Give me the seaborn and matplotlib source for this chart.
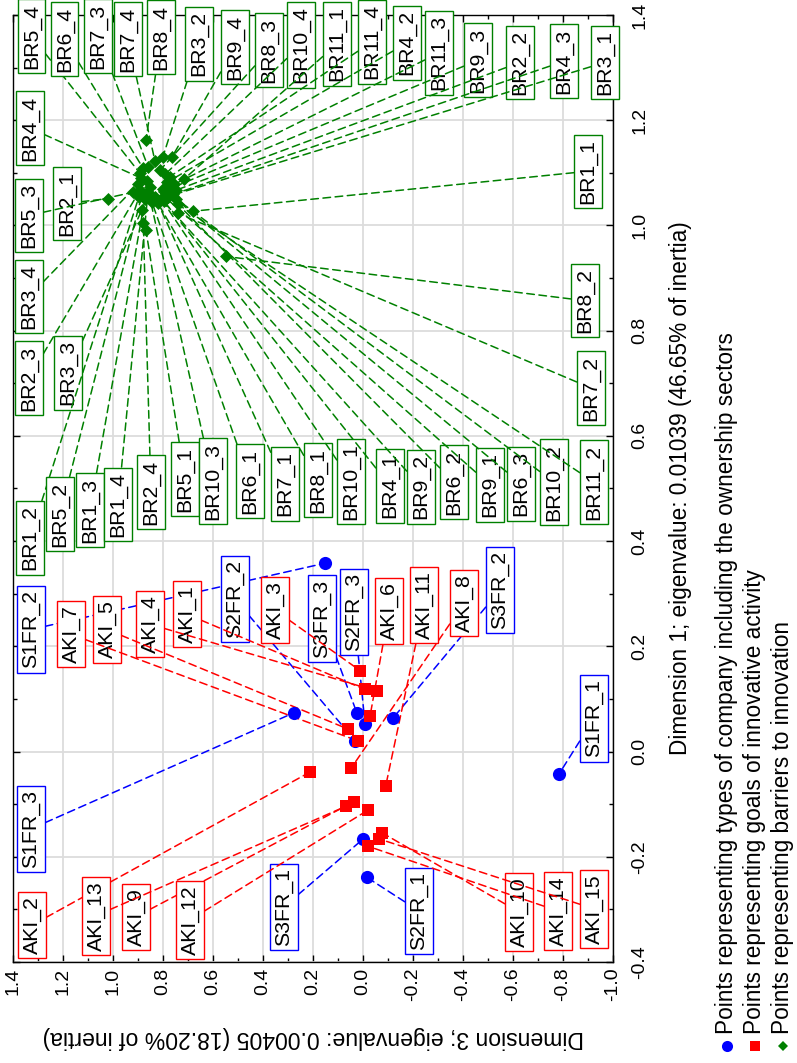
import numpy as np
import pandas as pd
import matplotlib
matplotlib.use("Agg")
import matplotlib.pyplot as plt
import seaborn as sns
from matplotlib.ticker import MultipleLocator, FormatStrFormatter
from matplotlib.lines import Line2D

# ---------------- data ----------------
# Blue: types of company (ownership sectors)
blue_labels = ["S1FR_1", "S1FR_2", "S1FR_3", "S2FR_1", "S2FR_2", "S2FR_3", "S3FR_1", "S3FR_2", "S3FR_3"]
blue_dim3 = [-0.785, 0.152, 0.275, -0.015, 0.032, -0.008, -0.001, -0.119, 0.025]
blue_dim1 = [-0.042, 0.358, 0.074, -0.239, 0.021, 0.053, -0.166, 0.063, 0.074]
blue_lab_dim3 = [-0.924, 1.328, 1.328, -0.224, 0.512, 0.036, 0.316, -0.548, 0.164]
blue_lab_dim1 = [0.063, 0.232, -0.147, -0.303, 0.290, 0.265, -0.295, 0.307, 0.253]

# Red: goals of innovative activity
red_labels = ["AKI_1", "AKI_2", "AKI_3", "AKI_4", "AKI_5", "AKI_6", "AKI_7", "AKI_8",
              "AKI_9", "AKI_10", "AKI_11", "AKI_12", "AKI_13", "AKI_14", "AKI_15"]
red_dim3 = [-0.008, 0.212, 0.012, -0.055, 0.061, -0.028, 0.019, 0.048,
            0.035, -0.075, -0.091, -0.021, 0.068, -0.020, -0.064]
red_dim1 = [0.118, -0.039, 0.154, 0.115, 0.043, 0.067, 0.020, -0.032,
            -0.095, -0.154, -0.065, -0.111, -0.104, -0.180, -0.166]
red_lab_dim3 = [0.704, 1.324, 0.352, 0.852, 1.024, -0.104, 1.168, -0.404,
                0.908, -0.624, -0.244, 0.692, 1.068, -0.780, -0.924]
red_lab_dim1 = [0.261, -0.330, 0.269, 0.242, 0.232, 0.267, 0.223, 0.282,
                -0.314, -0.305, 0.278, -0.320, -0.312, -0.303, -0.299]

# Green: barriers to innovation
green_labels = ["BR5_4", "BR6_4", "BR7_3", "BR7_4", "BR8_4", "BR3_2", "BR9_4", "BR8_3", "BR10_4",
                "BR11_1", "BR11_4", "BR4_2", "BR11_3", "BR9_3", "BR2_2", "BR4_3", "BR3_1",
                "BR4_4", "BR2_1", "BR5_3", "BR3_4", "BR2_3", "BR3_3",
                "BR1_1", "BR8_2", "BR7_2",
                "BR1_2", "BR5_2", "BR1_3", "BR1_4", "BR2_4", "BR5_1", "BR10_3", "BR6_1", "BR7_1",
                "BR8_1", "BR10_1", "BR4_1", "BR9_2", "BR6_2", "BR9_1", "BR6_3", "BR10_2", "BR11_2"]
green_dim3 = [0.892, 0.880, 0.860, 0.832, 0.868, 0.800, 0.764, 0.812, 0.792,
              0.716, 0.772, 0.784, 0.756, 0.772, 0.748, 0.760, 0.780,
              0.888, 1.020, 0.921, 0.900, 0.892, 0.885,
              0.680, 0.548, 0.740,
              0.896, 0.884, 0.872, 0.860, 0.879, 0.868, 0.852, 0.844, 0.832,
              0.820, 0.808, 0.796, 0.852, 0.788, 0.864, 0.800, 0.748, 0.740]
green_dim1 = [1.099, 1.109, 1.112, 1.122, 1.162, 1.131, 1.130, 1.105, 1.097,
              1.088, 1.093, 1.082, 1.078, 1.070, 1.067, 1.059, 1.055,
              1.090, 1.051, 1.063, 1.078, 1.067, 1.029,
              1.027, 0.941, 1.023,
              1.055, 1.059, 1.051, 1.063, 1.004, 0.991, 1.051, 1.044, 1.055,
              1.042, 1.051, 1.046, 1.074, 1.063, 1.084, 1.070, 1.051, 1.040]
green_lab_dim3 = [1.326, 1.194, 1.060, 0.940, 0.808, 0.656, 0.512, 0.376, 0.248,
                  0.104, -0.036, -0.176, -0.304, -0.460, -0.628, -0.804, -0.968,
                  1.332, 1.184, 1.336, 1.336, 1.336, 1.180,
                  -0.900, -0.888, -0.912,
                  1.332, 1.212, 1.092, 0.980, 0.848, 0.712, 0.600, 0.452, 0.312,
                  0.180, 0.048, -0.108, -0.232, -0.364, -0.508, -0.632, -0.764, -0.924]
green_lab_dim1 = [1.360, 1.354, 1.360, 1.354, 1.358, 1.345, 1.339, 1.333, 1.343,
                  1.345, 1.349, 1.347, 1.328, 1.314, 1.310, 1.312, 1.310,
                  1.185, 1.042, 1.019, 0.865, 0.710, 0.720,
                  1.103, 0.857, 0.691,
                  0.406, 0.451, 0.459, 0.470, 0.493, 0.518, 0.514, 0.514, 0.509,
                  0.516, 0.514, 0.505, 0.503, 0.512, 0.507, 0.509, 0.512, 0.512]

legend_texts = ["Points representing types of company including the ownership sectors",
                "Points representing goals of innovative activity",
                "Points representing barriers to innovation"]
xlabel_text = "Dimension 3; eigenvalue: 0.00405 (18.20% of inertia)"
ylabel_text = "Dimension 1; eigenvalue: 0.01039 (46.65% of inertia)"

# ---------------- style ----------------
sns.set_theme(style="white")
plt.rcParams["font.family"] = ["Liberation Sans", "DejaVu Sans"]
plt.rcParams["axes.unicode_minus"] = False

BLUE, RED, GREEN = "#0000FF", "#FF0000", "#008000"
groups = [
    (blue_labels, blue_dim3, blue_dim1, blue_lab_dim3, blue_lab_dim1, BLUE, "o", 90),
    (red_labels, red_dim3, red_dim1, red_lab_dim3, red_lab_dim1, RED, "s", 80),
    (green_labels, green_dim3, green_dim1, green_lab_dim3, green_lab_dim1, GREEN, "D", 44),
]

fig = plt.figure(figsize=(7.97, 10.63), dpi=100)
ax = fig.add_axes([13 / 797, 1 - 962 / 1063, 600 / 797, 947 / 1063])

ax.set_xlim(1.4, -1.0)
ax.set_ylim(-0.4, 1.4)
ax.xaxis.set_major_locator(MultipleLocator(0.2))
ax.xaxis.set_minor_locator(MultipleLocator(0.1))
ax.yaxis.set_major_locator(MultipleLocator(0.2))
ax.yaxis.set_minor_locator(MultipleLocator(0.1))
ax.xaxis.set_major_formatter(FormatStrFormatter("%.1f"))
ax.yaxis.set_major_formatter(FormatStrFormatter("%.1f"))
ax.grid(True, which="major", color="#dcdcdc", lw=1.3)
ax.set_axisbelow(True)
for sp in ax.spines.values():
    sp.set_color("black")
    sp.set_linewidth(1.0)

ax.tick_params(which="both", direction="in", top=True, bottom=True, left=True, right=True,
               labelleft=False, labelright=True, labeltop=False, labelbottom=True,
               color="black", labelsize=14, labelcolor="black")
ax.tick_params(which="major", length=5, width=1)
ax.tick_params(which="minor", length=3, width=1)
ax.tick_params(axis="x", labelrotation=90, pad=4)
ax.tick_params(axis="y", labelrotation=90, pad=13)
for lab in ax.get_yticklabels():
    lab.set_va("center")

ax.yaxis.set_label_position("right")
ax.set_ylabel(ylabel_text, fontsize=16.3, rotation=90, labelpad=15, color="black")
ax.set_xlabel(xlabel_text, fontsize=16.6, rotation=180, labelpad=18, color="black")

# points
for labels, d3, d1, l3, l1, col, mk, s in groups:
    df = pd.DataFrame({"dim3": d3, "dim1": d1})
    sns.scatterplot(data=df, x="dim3", y="dim1", color=col, marker=mk, s=s,
                    edgecolor=col, linewidth=0, ax=ax, zorder=5, legend=False)

# labels with dashed leader lines
for labels, d3, d1, l3, l1, col, mk, s in groups:
    for lab, x, y, tx, ty in zip(labels, d3, d1, l3, l1):
        ax.annotate(lab, xy=(x, y), xytext=(tx, ty), textcoords="data",
                    rotation=90, ha="center", va="center", fontsize=15.3, color="black",
                    bbox=dict(boxstyle="square,pad=0.2", fc="white", ec=col, lw=1.0),
                    arrowprops=dict(arrowstyle="-", color=col, lw=1.1,
                                    linestyle=(0, (5, 3)), shrinkA=0, shrinkB=0),
                    zorder=3, annotation_clip=False)

# legend (rotated, drawn manually)
leg_x = [727 / 797, 755 / 797, 783 / 797]
leg_cols = [BLUE, RED, GREEN]
leg_marks = [("o", 8), ("s", 7.5), ("D", 5.5)]
for xx, txt, col, (mk, ms) in zip(leg_x, legend_texts, leg_cols, leg_marks):
    fig.add_artist(Line2D([xx], [1 - 1046 / 1063], transform=fig.transFigure, marker=mk,
                          markersize=ms, color=col, markeredgewidth=0, linestyle="none"))
    fig.text(xx, 1 - 1034 / 1063, txt, rotation=90, ha="center", va="bottom",
             fontsize=16.3, color="black")

fig.savefig("out.png", dpi=100)
